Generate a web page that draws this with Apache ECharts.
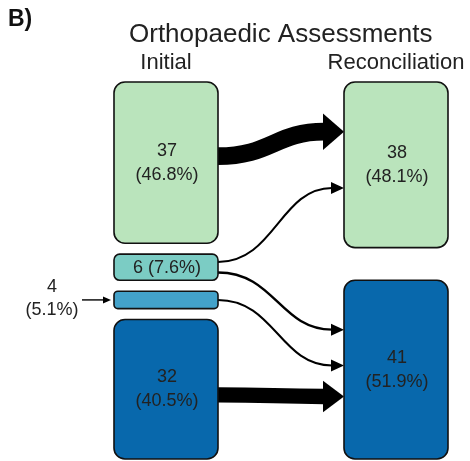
<!DOCTYPE html>
<html><head><meta charset="utf-8">
<script src="https://cdn.jsdelivr.net/npm/echarts@6/dist/echarts.min.js"></script>
<style>html,body{margin:0;padding:0;background:#fff}#c{width:470px;height:461px}</style>
</head><body><div id="c"></div>
<script>
// ---------------- data ----------------
const stages = ['Initial', 'Reconciliation'];
const initialCounts = [37, 6, 4, 32];
const reconCounts = [38, 41];
const flowFrom = [0, 1, 1, 2, 3];      // index into initialCounts
const flowTo = [0, 0, 1, 1, 1];        // index into reconCounts
const flowValues = [37, 1, 5, 4, 32];
const chartTitle = 'Orthopaedic Assessments';
const panelLabel = 'B)';

// ---------------- style / layout ----------------
const initialColors = ['#bae4bc', '#7bccc4', '#43a2ca', '#0868ac'];
const reconColors = ['#bae4bc', '#0868ac'];
const gapInitial = 2.5, gapRecon = 7.5;
const srcAnchor = [0.46, 0.3, 0.7, 0.5, 0.54];
const dstAnchor = [0.30, 0.64, 0.276, 0.477, 0.65];
const BOX_W = 104;
const FONT = '"Liberation Sans", Arial, Helvetica, sans-serif';
const TXT = '#222';

const total = initialCounts.reduce((a, b) => a + b, 0);
function stack(counts, gap, col) {
  let y = 0;
  return counts.map((c, i) => { const y0 = y, y1 = y + c; y = y1 + gap; return [col, y0, y1, c, i]; });
}
const initBoxes = stack(initialCounts, gapInitial, 0);
const reconBoxes = stack(reconCounts, gapRecon, 1);
const yMax = Math.max(initBoxes[initBoxes.length - 1][2], reconBoxes[reconBoxes.length - 1][2]);

const linkData = flowValues.map((v, i) => {
  const sb = initBoxes[flowFrom[i]], tb = reconBoxes[flowTo[i]];
  return [0, sb[1] + srcAnchor[i] * (sb[2] - sb[1]), 1, tb[1] + dstAnchor[i] * (tb[2] - tb[1]), v];
});

function renderBox(params, api) {
  const col = api.value(0), y0 = api.value(1), y1 = api.value(2), count = api.value(3), idx = api.value(4);
  const p0 = api.coord([col, y0]), p1 = api.coord([col, y1]);
  const x = p0[0] - BOX_W / 2, top = p0[1], h = p1[1] - p0[1], cx = p0[0], cy = top + h / 2;
  const color = (col === 0 ? initialColors : reconColors)[idx];
  const pct = (count / total * 100).toFixed(1);
  const r = Math.min(11, h * 0.22);
  const children = [{
    type: 'rect', shape: { x: x, y: top, width: BOX_W, height: h, r: r },
    style: { fill: color, stroke: '#111', lineWidth: 1.6 }
  }];
  if (h >= 50) {
    children.push({ type: 'text', style: { text: count + '\n(' + pct + '%)', x: cx + 1, y: cy, align: 'center', verticalAlign: 'middle', fontSize: 18, fontFamily: FONT, lineHeight: 24, fill: TXT } });
  } else if (h >= 22) {
    children.push({ type: 'text', style: { text: count + ' (' + pct + '%)', x: cx + 1, y: cy + 1, align: 'center', verticalAlign: 'middle', fontSize: 18, fontFamily: FONT, fill: TXT } });
  } else {
    children.push({ type: 'text', style: { text: count + '\n(' + pct + '%)', x: x - 62, y: cy - 1, align: 'center', verticalAlign: 'middle', fontSize: 18, fontFamily: FONT, lineHeight: 23, fill: TXT } });
    children.push({ type: 'line', shape: { x1: x - 32, y1: cy, x2: x - 9, y2: cy }, style: { stroke: '#000', lineWidth: 1.4 } });
    children.push({ type: 'polygon', shape: { points: [[x - 11, cy - 3.5], [x - 3, cy], [x - 11, cy + 3.5]] }, style: { fill: '#000' } });
  }
  return { type: 'group', children: children };
}

function renderLink(params, api) {
  const s = api.coord([0, api.value(1)]), t = api.coord([1, api.value(3)]);
  const v = api.value(4);
  const sx = s[0] + BOX_W / 2, sy = s[1], tx = t[0] - BOX_W / 2, ty = t[1];
  const w = Math.max(2, v * 0.48);
  const thick = w > 6;
  const hl = thick ? 21 : 13, hw = thick ? w * 2.05 : 12;
  const bx = tx - hl, dx = bx - sx;
  return {
    type: 'group', children: [
      { type: 'bezierCurve', shape: { x1: sx, y1: sy, cpx1: sx + dx * 0.5, cpy1: sy, cpx2: bx - dx * 0.45, cpy2: ty, x2: bx + 1, y2: ty },
        style: { stroke: '#000', lineWidth: w, fill: null } },
      { type: 'polygon', shape: { points: [[bx, ty - hw / 2], [tx, ty], [bx, ty + hw / 2]] }, style: { fill: '#000' } }
    ]
  };
}

const chart = echarts.init(document.getElementById('c'), null, { renderer: 'canvas' });
chart.setOption({
  animation: false,
  backgroundColor: '#fff',
  title: [
    { text: panelLabel, left: 8, top: 8, padding: 0, textStyle: { fontSize: 23, fontWeight: 'bold', fontFamily: FONT, color: '#111' } },
    { text: chartTitle, left: 129, top: 22, padding: 0, textStyle: { fontSize: 26, fontWeight: 'normal', fontFamily: FONT, color: TXT } }
  ],
  grid: { left: 166, right: 74, top: 82, bottom: 2 },
  xAxis: {
    type: 'category', data: stages, boundaryGap: false, position: 'top',
    axisLine: { show: false }, axisTick: { show: false }, splitLine: { show: false },
    axisLabel: { fontSize: 22, fontFamily: FONT, color: TXT, margin: 8 }
  },
  yAxis: { type: 'value', min: 0, max: yMax, inverse: true, show: false },
  series: [
    { type: 'custom', name: 'flows', renderItem: renderLink, data: linkData, encode: { x: 0, y: 1 }, z: 1, silent: true },
    { type: 'custom', name: 'boxes', renderItem: renderBox, data: initBoxes.concat(reconBoxes), encode: { x: 0, y: 1 }, z: 2, silent: true }
  ]
});
</script></body></html>
